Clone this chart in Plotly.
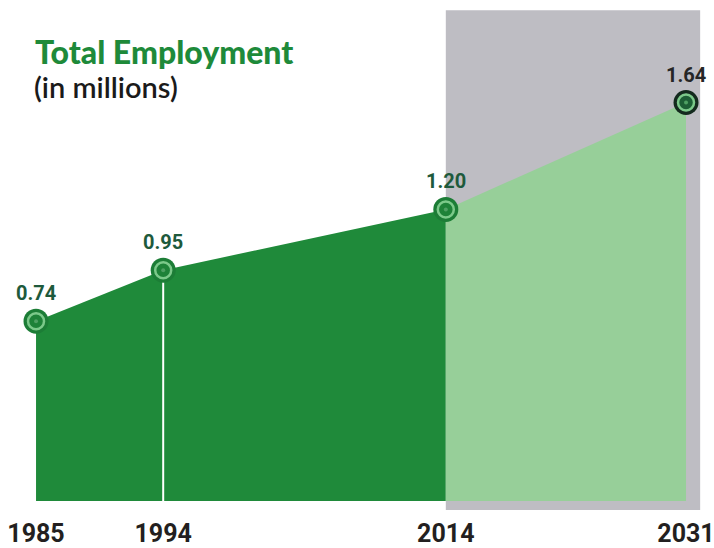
import plotly.graph_objects as go

years = [1985, 1994, 2014, 2031]
employment = [0.74, 0.95, 1.20, 1.64]
value_labels = ["0.74", "0.95", "1.20", "1.64"]
tick_labels = ["1985", "1994", "2014", "2031"]

hist_years, hist_vals = years[:3], employment[:3]
proj_years, proj_vals = years[2:], employment[2:]

DARK = "#1F8A3A"
LIGHT = "#97CF99"
GRAY = "#BEBDC3"

W, H = 714, 548
xmin, xmax = 1982.45, 2032.98
ymin, ymax = -0.037, 2.062

fig = go.Figure()

# projection background
fig.add_shape(type="rect", xref="x", yref="y", x0=years[2], x1=2032.0, y0=ymin, y1=2.02,
              fillcolor=GRAY, line=dict(width=0), layer="below")

fig.add_trace(go.Scatter(x=hist_years, y=hist_vals, fill="tozeroy", fillcolor=DARK,
                         mode="lines", line=dict(width=0, color=DARK), hoverinfo="skip"))
fig.add_trace(go.Scatter(x=proj_years, y=proj_vals, fill="tozeroy", fillcolor=LIGHT,
                         mode="lines", line=dict(width=0, color=LIGHT), hoverinfo="skip"))
# white divider at 1994
fig.add_trace(go.Scatter(x=[years[1], years[1]], y=[0, employment[1]], mode="lines",
                         line=dict(color="white", width=2), hoverinfo="skip"))

outer_cols = ["#1C7D36", "#1C7D36", "#1C7D36", "#142A1E"]
center_cols = ["#1E8238", "#1E8238", "#1E8238", "#1D5E35"]
fig.add_trace(go.Scatter(x=years, y=employment, mode="markers",
                         marker=dict(size=25, color=outer_cols, line=dict(width=0)), hoverinfo="skip"))
fig.add_trace(go.Scatter(x=years, y=employment, mode="markers",
                         marker=dict(size=16, color=center_cols, line=dict(width=2.5, color="#7CC98A")),
                         hoverinfo="skip"))
fig.add_trace(go.Scatter(x=years, y=employment, mode="markers",
                         marker=dict(size=4, color="#4E9F62", line=dict(width=0)), hoverinfo="skip"))

COND = "Roboto, DejaVu Sans Condensed, sans-serif"
label_cols = ["#1E5A3C", "#1E5A3C", "#1E5A3C", "#262626"]
for yr, v, t, c in zip(years, employment, value_labels, label_cols):
    fig.add_annotation(x=yr, y=v, text=t, showarrow=False, yshift=28,
                       font=dict(family=COND, size=20, color=c, weight="bold"))

fig.add_annotation(xref="paper", yref="paper", x=33 / W, y=(510 - 52) / 510, xanchor="left",
                   yanchor="middle", text="Total Employment", showarrow=False,
                   font=dict(family="Lato, Roboto, sans-serif", size=32, color="#1E8A3A", weight=900))
fig.add_annotation(xref="paper", yref="paper", x=32 / W, y=(510 - 87) / 510, xanchor="left",
                   yanchor="middle", text="(in millions)", showarrow=False,
                   font=dict(family="Lato, Roboto, sans-serif", size=29, color="#1A1A1A", weight=600))

fig.update_xaxes(range=[xmin, xmax], showgrid=False, zeroline=False, showline=False, ticks="",
                 tickmode="array", tickvals=years, ticktext=tick_labels, ticklabelstandoff=6,
                 ticklabeloverflow="allow",
                 tickfont=dict(family=COND, size=25, color="#231F20", weight="bold"))
fig.update_yaxes(range=[ymin, ymax], visible=False, showgrid=False, zeroline=False)

fig.update_layout(width=W, height=H, margin=dict(l=0, r=0, t=0, b=38), showlegend=False,
                  plot_bgcolor="white", paper_bgcolor="white")

fig.write_html("out.html")
